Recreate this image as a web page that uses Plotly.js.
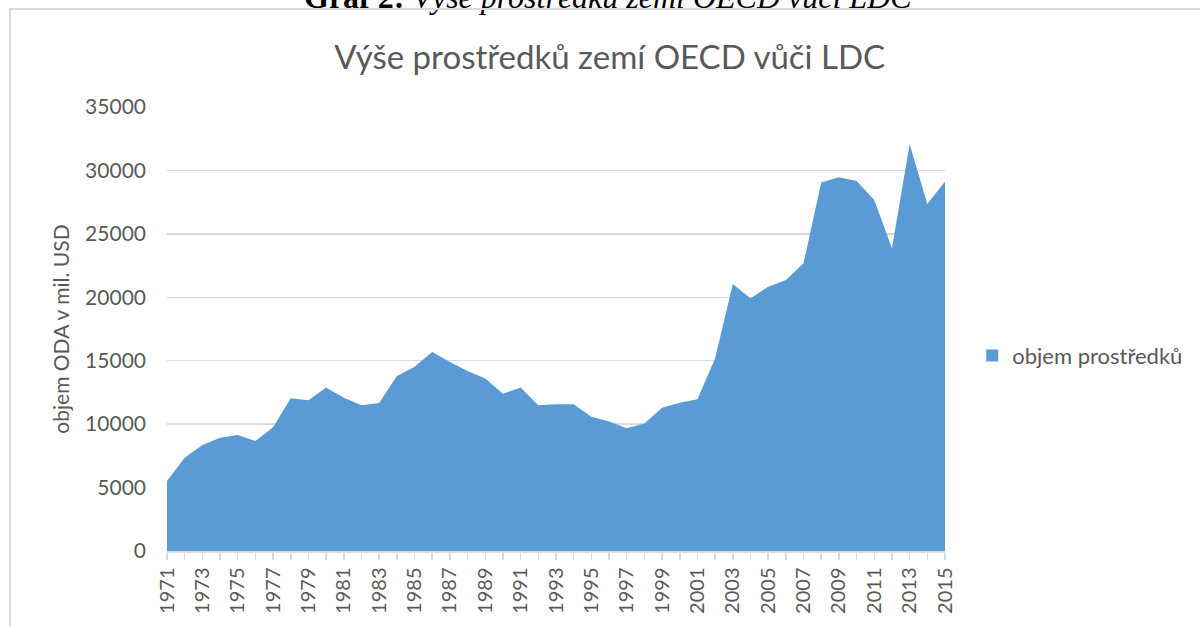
<!DOCTYPE html>
<html>
<head>
<meta charset="utf-8">
<script src="https://cdn.plot.ly/plotly-3.0.1.min.js"></script>
<style>
  html, body { margin: 0; padding: 0; background: #fff; }
  #wrap { position: relative; width: 1200px; height: 626px; overflow: hidden; }
  #chart { width: 1200px; height: 626px; }
  #frame { position: absolute; left: 9px; top: 8px; width: 1300px; height: 700px;
           border-left: 2px solid #d9d9d9; border-top: 2px solid #d9d9d9; pointer-events: none; }
</style>
</head>
<body>
<div id="wrap">
  <div id="chart"></div>
  <div id="frame"></div>
</div>
<script>
// ---- data ----
const years = [1971,1972,1973,1974,1975,1976,1977,1978,1979,1980,
               1981,1982,1983,1984,1985,1986,1987,1988,1989,1990,
               1991,1992,1993,1994,1995,1996,1997,1998,1999,2000,
               2001,2002,2003,2004,2005,2006,2007,2008,2009,2010,
               2011,2012,2013,2014,2015];
const objem = [5520,7350,8350,8930,9140,8670,9750,12040,11880,12880,
               12090,11480,11670,13800,14530,15690,14900,14190,13590,12400,
               12880,11480,11560,11560,10590,10200,9670,10060,11300,11690,
               11960,15190,21050,19920,20840,21360,22680,29040,29460,29170,
               27670,23860,32060,27350,29120];
const seriesName = 'objem prostředků';
const chartTitle = 'Výše prostředků zemí OECD vůči LDC';
const yTitle = 'objem ODA v mil. USD';
const caption = '<b>Graf 2:</b> <i>Výše prostředků zemí OECD vůči LDC</i>';
const yTickVals = [0,5000,10000,15000,20000,25000,30000,35000];
const xTickLabels = years.map((y, i) => (i % 2 === 0 ? String(y) : ''));

const fillColor = '#5b9bd5';
const textColor = '#595959';
const font = 'Lato, "Open Sans", sans-serif';

const traces = [
  {
    x: years, y: objem, type: 'scatter', mode: 'lines',
    fill: 'tozeroy', fillcolor: fillColor,
    line: { width: 0, color: fillColor },
    showlegend: false, hoverinfo: 'x+y'
  },
  {
    x: [null], y: [null], type: 'scatter', mode: 'markers',
    name: seriesName,
    marker: { symbol: 'square', size: 12, color: fillColor },
    showlegend: true, hoverinfo: 'skip'
  }
];

const layout = {
  width: 1200, height: 626,
  margin: { l: 167, r: 253, t: 107, b: 75 },
  paper_bgcolor: 'rgba(0,0,0,0)', plot_bgcolor: '#fff',
  font: { family: font, color: textColor, size: 20 },
  title: {
    text: chartTitle,
    font: { family: font, size: 33, color: textColor },
    x: 0.508, xanchor: 'center', y: 0.909, yanchor: 'middle'
  },
  xaxis: {
    range: [1971, 2015],
    tickmode: 'array', tickvals: years, ticktext: xTickLabels,
    tickangle: -90,
    ticks: 'outside', ticklen: 7, tickcolor: '#d9d9d9', tickwidth: 1.5,
    showline: true, linecolor: '#d9d9d9', linewidth: 1.5,
    showgrid: false, zeroline: false,
    tickfont: { family: font, size: 20, color: textColor },
    fixedrange: true
  },
  yaxis: {
    range: [0, 35000],
    tickmode: 'array', tickvals: yTickVals, tickformat: 'd',
    showgrid: true, gridcolor: '#d9d9d9', gridwidth: 1.5,
    zeroline: false, showline: false,
    ticks: '', ticklabelstandoff: 20,
    tickfont: { family: font, size: 21, color: textColor },
    title: { text: yTitle, font: { family: font, size: 21, color: textColor }, standoff: 9 },
    fixedrange: true
  },
  legend: {
    x: 1.035, xanchor: 'left', y: 0.44, yanchor: 'middle',
    font: { family: font, size: 22, color: textColor },
    bgcolor: 'rgba(0,0,0,0)', itemwidth: 30
  },
  annotations: [
    {
      text: caption, xref: 'paper', yref: 'paper',
      x: 0.567, y: 1.248, xanchor: 'center', yanchor: 'middle',
      showarrow: false,
      font: { family: '"Liberation Serif", "Times New Roman", serif', size: 32, color: '#000' }
    }
  ],
  showlegend: true
};

Plotly.newPlot('chart', traces, layout, { displayModeBar: false, staticPlot: true });
</script>
</body>
</html>
